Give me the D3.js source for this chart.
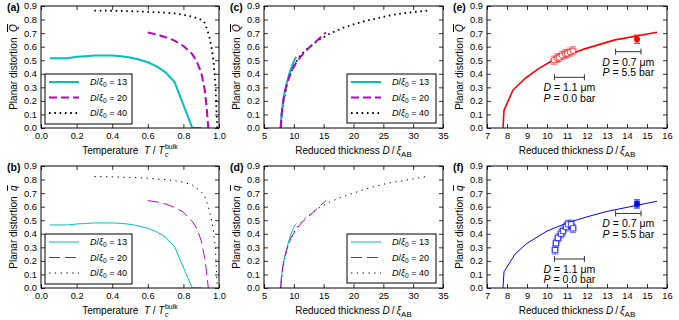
<!DOCTYPE html>
<html><head><meta charset="utf-8">
<script src="https://cdn.jsdelivr.net/npm/d3@7"></script>
<style>
body{margin:0;background:#fff}
text{font-family:"Liberation Sans",Arial,sans-serif;fill:#000}
</style>
</head><body>
<svg id="c" width="679" height="320"></svg>
<script>
// ---------------- data ----------------
const tempTicks = [0.0,0.2,0.4,0.6,0.8,1.0];
const thickTicksCD = [5,10,15,20,25,30,35];
const thickTicksEF = [7,8,9,10,11,12,13,14,15,16];
const distTicks = [0.0,0.1,0.2,0.3,0.4,0.5,0.6,0.7,0.8,0.9];
const legendRatios = ["13","20","40"];

// (a) Q vs T
const tempA13 = [0.05,0.1,0.15,0.2,0.25,0.3,0.35,0.4,0.45,0.5,0.55,0.6,0.65,0.7,0.75,0.85,0.9];
const qbarA13 = [0.515,0.515,0.515,0.525,0.53,0.535,0.535,0.535,0.53,0.52,0.505,0.485,0.455,0.41,0.34,0.0,0.0];
const tempA20 = [0.6,0.65,0.7,0.75,0.8,0.85,0.875,0.9,0.92,0.93,0.94];
const qbarA20 = [0.705,0.69,0.67,0.645,0.605,0.545,0.49,0.41,0.28,0.16,0.0];
const tempA40 = [0.3,0.4,0.5,0.6,0.7,0.75,0.8,0.85,0.9,0.92,0.94,0.95,0.96,0.97,0.98,0.99];
const qbarA40 = [0.866,0.865,0.862,0.857,0.851,0.845,0.835,0.822,0.80,0.775,0.70,0.65,0.58,0.48,0.32,0.0];

// (b) q vs T
const tempB13 = [0.05,0.1,0.15,0.2,0.25,0.3,0.35,0.4,0.45,0.5,0.55,0.6,0.65,0.7,0.75,0.85,0.9];
const qB13 = [0.465,0.465,0.465,0.472,0.476,0.48,0.48,0.48,0.477,0.47,0.458,0.44,0.415,0.375,0.305,0.0,0.0];
const tempB20 = [0.6,0.65,0.7,0.75,0.8,0.85,0.875,0.9,0.92,0.93,0.94];
const qB20 = [0.645,0.635,0.62,0.595,0.56,0.49,0.44,0.35,0.22,0.12,0.0];
const tempB40 = [0.3,0.4,0.5,0.6,0.7,0.75,0.8,0.85,0.9,0.92,0.94,0.95,0.96,0.97,0.98,0.99];
const qB40 = [0.822,0.82,0.816,0.81,0.80,0.792,0.78,0.76,0.71,0.675,0.60,0.55,0.49,0.41,0.29,0.0];

// (c) Q vs D/xiAB
const thickC13 = [7.8,7.9,8.1,8.4,8.8,9.3,9.8,10.2,10.4];
const qbarC13 = [0.0,0.08,0.16,0.25,0.33,0.41,0.47,0.51,0.525];
const thickC20 = [7.8,7.9,8.1,8.4,8.8,9.5,10.5,11.5,12.5,13.5,14.5,15.4];
const qbarC20 = [0.0,0.08,0.16,0.25,0.32,0.41,0.49,0.545,0.59,0.63,0.67,0.705];
const thickC40 = [7.8,8.2,9.0,10.0,11.0,12.0,14.0,16.0,18.0,20.0,22.0,24.0,26.0,28.0,30.0,32.5];
const qbarC40 = [0.0,0.18,0.35,0.46,0.53,0.575,0.645,0.695,0.735,0.765,0.79,0.81,0.83,0.845,0.855,0.866];

// (d) q vs D/xiAB
const thickD13 = [7.8,7.9,8.1,8.4,8.8,9.3,9.8,10.2,10.4];
const qD13 = [0.0,0.07,0.14,0.22,0.29,0.37,0.43,0.465,0.475];
const thickD20 = [7.8,7.9,8.1,8.4,8.8,9.5,10.5,11.5,12.5,13.5,14.5,15.4];
const qD20 = [0.0,0.07,0.14,0.22,0.28,0.37,0.44,0.49,0.53,0.57,0.61,0.645];
const thickD40 = [7.8,8.2,9.0,10.0,11.0,12.0,14.0,16.0,18.0,20.0,22.0,24.0,26.0,28.0,30.0,32.5];
const qD40 = [0.0,0.16,0.31,0.41,0.475,0.52,0.585,0.635,0.67,0.70,0.73,0.755,0.775,0.79,0.805,0.825];

// (e) theory + experiment, Q
const thickETheory = [7.8,7.85,8.3,8.9,9.6,10.3,11.8,13.4,15.5];
const qbarETheory = [0.0,0.13,0.28,0.365,0.44,0.50,0.58,0.65,0.706];
const thickEOpen = [10.35,10.5,10.6,10.75,10.9,11.0,11.15,11.3];
const qbarEOpen = [0.50,0.515,0.52,0.535,0.545,0.55,0.56,0.57];
const thickEFilled = [14.5];
const qbarEFilled = [0.655];

// (f) theory + experiment, q
const thickFTheory = [7.8,7.85,8.4,9.0,10.0,11.0,12.0,13.0,14.0,15.0,15.5];
const qFTheory = [0.0,0.12,0.25,0.33,0.42,0.48,0.525,0.565,0.595,0.625,0.64];
const thickFOpen = [10.4,10.45,10.55,10.7,10.8,10.95,11.05,11.2,11.3];
const qFOpen = [0.28,0.33,0.37,0.40,0.42,0.45,0.47,0.47,0.44];
const thickFFilled = [14.5];
const qFFilled = [0.62];

// error sizes and thickness-uncertainty bars
const qErr = 0.03, thickErr = 0.15;
const barHighP = [13.43,14.7];   // D = 0.7 um, P = 5.5 bar
const barLowP  = [10.37,11.87];  // D = 1.1 um, P = 0.0 bar
const barHighQ = 0.563, barLowQ = 0.374;  // (e)
const barHighq = 0.55,  barLowq = 0.214;  // (f)

// ---------------- layout ----------------
const cols = [[41,219],[264,443],[487,667]];
const rows = [[6,128],[166,288]];
const svg = d3.select("#c");
const defs = svg.append("defs");

function zip(a,b){return a.map((v,i)=>[v,b[i]]);}

function makePanel(ci,ri,xdom,xticks,xfmt,letter){
  const [x0,x1]=cols[ci],[y0,y1]=rows[ri];
  const x=d3.scaleLinear().domain(xdom).range([x0,x1]);
  const y=d3.scaleLinear().domain([0,0.9]).range([y1,y0]);
  const id="clip"+ci+ri;
  defs.append("clipPath").attr("id",id).append("rect")
    .attr("x",x0).attr("y",y0).attr("width",x1-x0).attr("height",y1-y0);
  const g=svg.append("g");
  const plot=g.append("g").attr("clip-path",`url(#${id})`);
  const axes=g.append("g");
  const style=(s)=>{s.select(".domain").remove();
    s.selectAll("line").attr("stroke","#000").attr("stroke-width",0.8);
    s.selectAll("text").style("font-size","9.3px").attr("fill","#111");};
  axes.append("g").attr("transform",`translate(0,${y1})`)
    .call(d3.axisBottom(x).tickValues(xticks).tickFormat(xfmt).tickSizeInner(-4).tickSizeOuter(0).tickPadding(4)).call(style);
  axes.append("g").attr("transform",`translate(0,${y0})`)
    .call(d3.axisTop(x).tickValues(xticks).tickFormat("").tickSizeInner(-4).tickSizeOuter(0)).call(style);
  axes.append("g").attr("transform",`translate(${x0},0)`)
    .call(d3.axisLeft(y).tickValues(distTicks).tickFormat(d3.format(".1f")).tickSizeInner(-4).tickSizeOuter(0).tickPadding(4)).call(style);
  axes.append("g").attr("transform",`translate(${x1},0)`)
    .call(d3.axisRight(y).tickValues(distTicks).tickFormat("").tickSizeInner(-4).tickSizeOuter(0)).call(style);
  axes.append("rect").attr("x",x0).attr("y",y0).attr("width",x1-x0).attr("height",y1-y0)
    .attr("fill","none").attr("stroke","#000").attr("stroke-width",1);
  g.append("text").attr("x",x0-34).attr("y",y0+5).style("font-size","10.5px").style("font-weight","bold").text("("+letter+")");
  return {g,plot,axes,x,y,x0,x1,y0,y1};
}

function yLabel(p,sym){
  const cx=p.x0-24, cy=(p.y0+p.y1)/2;
  const t=p.g.append("text").attr("transform",`translate(${cx},${cy}) rotate(-90)`)
    .attr("text-anchor","middle").style("font-size","10px");
  t.append("tspan").text("Planar distortion\u00a0\u00a0");
  t.append("tspan").style("font-style","italic").style("text-decoration","overline").text(sym);
}
function xLabelTemp(p){
  const grp=p.g.append("g");
  const t=grp.append("text").style("font-size","10px");
  t.append("tspan").text("Temperature\u00a0\u00a0");
  t.append("tspan").style("font-style","italic").text("T");
  t.append("tspan").text("\u00a0/\u00a0");
  t.append("tspan").style("font-style","italic").text("T");
  const w=t.node().getComputedTextLength();
  grp.append("text").attr("x",w+0.5).attr("y",2.5).style("font-size","7px").style("font-style","italic").text("c");
  const sup=grp.append("text").attr("x",w+0.5).attr("y",-5).style("font-size","7px").text("bulk");
  const tw=w+0.5+sup.node().getComputedTextLength();
  grp.attr("transform",`translate(${(p.x0+p.x1)/2-tw/2},${p.y1+26})`);
}
function xLabelThick(p){
  const t=p.g.append("text").attr("x",(p.x0+p.x1)/2).attr("y",p.y1+26)
    .attr("text-anchor","middle").style("font-size","10px");
  t.append("tspan").text("Reduced thickness\u00a0");
  t.append("tspan").style("font-style","italic").text("D");
  t.append("tspan").text("\u2009/\u2009");
  t.append("tspan").style("font-style","italic").text("ξ");
  t.append("tspan").attr("dy",2.5).style("font-size","8px").text("AB");
}

const line=(p)=>d3.line().x(d=>p.x(d[0])).y(d=>p.y(d[1]));
function drawLine(p,xs,ys,st){
  p.plot.append("path").datum(zip(xs,ys)).attr("d",line(p))
    .attr("fill","none").attr("stroke",st.color).attr("stroke-width",st.w)
    .attr("stroke-dasharray",st.dash||null).attr("stroke-linejoin","round");
}

function legend(p,bx,by,bw,bh,styles){
  const lg=p.g.append("g");
  lg.append("rect").attr("x",bx).attr("y",by).attr("width",bw).attr("height",bh)
    .attr("fill","#fff").attr("stroke","#000").attr("stroke-width",1);
  styles.forEach((st,i)=>{
    const cy=by+8+i*15.5;
    lg.append("line").attr("x1",bx+4).attr("x2",bx+34).attr("y1",cy).attr("y2",cy)
      .attr("stroke",st.color).attr("stroke-width",st.w).attr("stroke-dasharray",st.dash||null);
    const t=lg.append("text").attr("x",bx+45).attr("y",cy+3.2).style("font-size","9px");
    t.append("tspan").style("font-style","italic").text("D");
    t.append("tspan").text("/");
    t.append("tspan").style("font-style","italic").text("ξ");
    t.append("tspan").attr("dy",2).style("font-size","6.5px").text("0");
    t.append("tspan").attr("dy",-2).text("\u00a0=\u00a0"+legendRatios[i]);
  });
}

const thick=[{color:"#00bfbf",w:2},{color:"#bf00bf",w:2,dash:"8,4"},{color:"#000",w:1.8,dash:"1.6,3.7"}];
const thin=[{color:"#00bfbf",w:1},{color:"#bf00bf",w:1,dash:"11,5"},{color:"#000",w:1,dash:"1.3,4.5"}];
const f1=d3.format(".1f"), f0=d3.format("d");

// (a)
const pa=makePanel(0,0,[0,1],tempTicks,f1,"a");
drawLine(pa,tempA13,qbarA13,thick[0]);drawLine(pa,tempA20,qbarA20,thick[1]);drawLine(pa,tempA40,qbarA40,thick[2]);
legend(pa,45,74,87,50,thick);yLabel(pa,"Q");xLabelTemp(pa);
// (b)
const pb=makePanel(0,1,[0,1],tempTicks,f1,"b");
drawLine(pb,tempB13,qB13,thin[0]);drawLine(pb,tempB20,qB20,thin[1]);drawLine(pb,tempB40,qB40,thin[2]);
legend(pb,45,234,87,50,thin);yLabel(pb,"q");xLabelTemp(pb);
// (c)
const pc=makePanel(1,0,[5,35],thickTicksCD,f0,"c");
drawLine(pc,thickC40,qbarC40,thick[2]);drawLine(pc,thickC13,qbarC13,thick[0]);drawLine(pc,thickC20,qbarC20,thick[1]);
legend(pc,347,74,89,49,thick);yLabel(pc,"Q");xLabelThick(pc);
// (d)
const pd=makePanel(1,1,[5,35],thickTicksCD,f0,"d");
drawLine(pd,thickD40,qD40,thin[2]);drawLine(pd,thickD13,qD13,thin[0]);drawLine(pd,thickD20,qD20,thin[1]);
legend(pd,347,234,89,49,thin);yLabel(pd,"q");xLabelThick(pd);

// experiment panels
function expPanel(p,color,thX,thY,opX,opY,fiX,fiY,shape,hiQ,loQ,lw){
  drawLine(p,thX,thY,{color,w:lw});
  const L=p.plot.append("g");
  const errs=(xs,ys,op,hx)=>xs.forEach((d,i)=>{
    const q=ys[i], X=p.x(d), Y=p.y(q);
    const a=L.append("g").attr("stroke",color).attr("stroke-width",1).attr("opacity",op);
    a.append("line").attr("x1",X).attr("x2",X).attr("y1",p.y(q-qErr)).attr("y2",p.y(q+qErr));
    a.append("line").attr("x1",X-3).attr("x2",X+3).attr("y1",p.y(q-qErr)).attr("y2",p.y(q-qErr));
    a.append("line").attr("x1",X-3).attr("x2",X+3).attr("y1",p.y(q+qErr)).attr("y2",p.y(q+qErr));
    if(hx){
      a.append("line").attr("x1",p.x(d-thickErr)).attr("x2",p.x(d+thickErr)).attr("y1",Y).attr("y2",Y);
      a.append("line").attr("x1",p.x(d-thickErr)).attr("x2",p.x(d-thickErr)).attr("y1",Y-3).attr("y2",Y+3);
      a.append("line").attr("x1",p.x(d+thickErr)).attr("x2",p.x(d+thickErr)).attr("y1",Y-3).attr("y2",Y+3);
    }
  });
  errs(opX,opY,0.55,true);
  opX.forEach((d,i)=>{
    const X=p.x(d),Y=p.y(opY[i]);
    if(shape==="circle") L.append("circle").attr("cx",X).attr("cy",Y).attr("r",2.8)
      .attr("fill","#fff").attr("stroke",color).attr("stroke-opacity",0.7);
    else L.append("rect").attr("x",X-2.6).attr("y",Y-2.6).attr("width",5.2).attr("height",5.2)
      .attr("fill","#fff").attr("stroke",color).attr("stroke-opacity",0.7);
  });
  errs(fiX,fiY,1,false);
  fiX.forEach((d,i)=>{
    const X=p.x(d),Y=p.y(fiY[i]);
    if(shape==="circle") L.append("circle").attr("cx",X).attr("cy",Y).attr("r",3).attr("fill",color);
    else L.append("rect").attr("x",X-2.8).attr("y",Y-2.8).attr("width",5.6).attr("height",5.6).attr("fill",color);
  });
  // thickness-uncertainty bars with labels
  const bar=(rng,q,l1,l2)=>{
    const Y=p.y(q);
    const b=L.append("g").attr("stroke","#333").attr("stroke-width",1);
    b.append("line").attr("x1",p.x(rng[0])).attr("x2",p.x(rng[1])).attr("y1",Y).attr("y2",Y);
    b.append("line").attr("x1",p.x(rng[0])).attr("x2",p.x(rng[0])).attr("y1",Y-3).attr("y2",Y+3);
    b.append("line").attr("x1",p.x(rng[1])).attr("x2",p.x(rng[1])).attr("y1",Y-3).attr("y2",Y+3);
    const cx=(p.x(rng[0])+p.x(rng[1]))/2;
    [l1,l2].forEach((lab,k)=>{
      const t=L.append("text").attr("x",cx).attr("y",Y+14+k*10.5).attr("text-anchor","middle").style("font-size","10.5px");
      t.append("tspan").style("font-style","italic").text(lab[0]);
      t.append("tspan").text(lab[1]);
    });
  };
  bar(barHighP,hiQ,["D","\u00a0=\u00a00.7\u00a0μm"],["P","\u00a0=\u00a05.5\u00a0bar"]);
  bar(barLowP,loQ,["D","\u00a0=\u00a01.1\u00a0μm"],["P","\u00a0=\u00a00.0\u00a0bar"]);
}
// (e)
const pe=makePanel(2,0,[7,16],thickTicksEF,f0,"e");
expPanel(pe,"#ff0000",thickETheory,qbarETheory,thickEOpen,qbarEOpen,thickEFilled,qbarEFilled,"circle",barHighQ,barLowQ,1.6);
yLabel(pe,"Q");xLabelThick(pe);
// (f)
const pf=makePanel(2,1,[7,16],thickTicksEF,f0,"f");
expPanel(pf,"#0000ff",thickFTheory,qFTheory,thickFOpen,qFOpen,thickFFilled,qFFilled,"square",barHighq,barLowq,1);
yLabel(pf,"q");xLabelThick(pf);
</script>
</body></html>
